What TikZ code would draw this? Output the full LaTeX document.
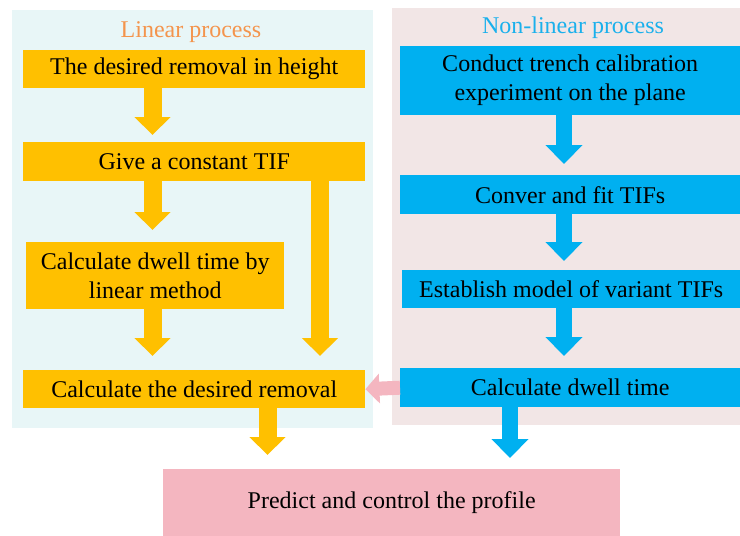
\documentclass[tikz,border=0pt]{standalone}
\usepackage{fontspec}
\setmainfont{LiberationSerif-Regular.ttf}
\usetikzlibrary{arrows.meta,positioning}
\definecolor{boxorange}{HTML}{FFC000}
\definecolor{boxblue}{HTML}{00B0F0}
\definecolor{boxpink}{HTML}{F4B6C0}
\definecolor{bgcyan}{HTML}{E8F6F7}
\definecolor{bgpink}{HTML}{F2E6E6}
\definecolor{titleorange}{HTML}{F4944C}
\definecolor{titleblue}{HTML}{1AB0EC}
\begin{document}
\begin{tikzpicture}[x=1pt, y=-1pt, font=\fontsize{24}{29}\selectfont,
        panel/.style = {anchor=north west, inner sep=0pt},
        box/.style = {anchor=north west, inner sep=0pt, align=center},
        ybox/.style = {box, fill=boxorange},
        bbox/.style = {box, fill=boxblue},
        yarrow/.style = {draw=boxorange, line width=18pt, -{Triangle[length=18pt, width=35pt]}},
        barrow/.style = {draw=boxblue, line width=16pt, -{Triangle[length=19pt, width=36pt]}},
        parrow/.style = {draw=boxpink, line width=14pt, -{Triangle[length=14pt, width=29pt]}}]
    \useasboundingbox (0,0) rectangle (740,536);
    % backgrounds
    \node[panel, fill=bgcyan, minimum width=361pt, minimum height=418pt] (linpanel) at (12,10) {};
    \node[panel, fill=bgpink, minimum width=348pt, minimum height=417pt] (nonpanel) at (392,8) {};
    \node[text=titleorange] (lintitle) at (191,32) {Linear process};
    \node[text=titleblue] (nontitle) at (573,28) {Non-linear process};
    % linear side
    \node[ybox, minimum width=342pt, minimum height=38pt] (height) at (23,50) {The desired removal in height};
    \node[ybox, minimum width=342pt, minimum height=39pt] (tif) at (23,142) {Give a constant TIF};
    \node[ybox, minimum width=258pt, minimum height=67pt] (lindwell) at (26,242) {Calculate dwell time by\\linear method};
    \node[ybox, minimum width=342pt, minimum height=38pt] (removal) at (23,370) {Calculate the desired removal};
    % non-linear side
    \node[bbox, minimum width=340pt, minimum height=69pt] (trench) at (400,46) {Conduct trench calibration\\experiment on the plane};
    \node[bbox, minimum width=340pt, minimum height=39pt] (fit) at (400,175) {Conver and fit TIFs};
    \node[bbox, minimum width=338pt, minimum height=38pt] (model) at (402,270) {Establish model of variant TIFs};
    \node[bbox, minimum width=340pt, minimum height=39pt] (dwell) at (400,368) {Calculate dwell time};
    % result
    \node[box, fill=boxpink, minimum width=457pt, minimum height=67pt] (profile) at (163,469) {Predict and control the profile};
    % arrow columns
    \coordinate (lc) at (152.5,0);
    \coordinate (rc) at (320,0);
    \coordinate (oc) at (267.5,0);
    \coordinate (nc) at (564,0);
    \coordinate (bc) at (510,0);
    \draw[yarrow, shorten >=7pt] (height.south -| lc) -- (tif.north -| lc);
    \draw[yarrow, shorten >=12pt] (tif.south -| lc) -- (lindwell.north -| lc);
    \draw[yarrow, shorten >=14pt] (lindwell.south -| lc) -- (removal.north -| lc);
    \draw[yarrow, shorten >=14pt] (tif.south -| rc) -- (removal.north -| rc);
    \draw[yarrow, shorten >=14pt] (removal.south -| oc) -- (profile.north -| oc);
    \draw[barrow, shorten >=11pt] (trench.south -| nc) -- (fit.north -| nc);
    \draw[barrow, shorten >=9pt] (fit.south -| nc) -- (model.north -| nc);
    \draw[barrow, shorten >=12pt] (model.south -| nc) -- (dwell.north -| nc);
    \draw[barrow, shorten >=11pt] (dwell.south -| bc) -- (profile.north -| bc);
    \draw[parrow] (dwell.west) -- (removal.east);
\end{tikzpicture}
\end{document}
